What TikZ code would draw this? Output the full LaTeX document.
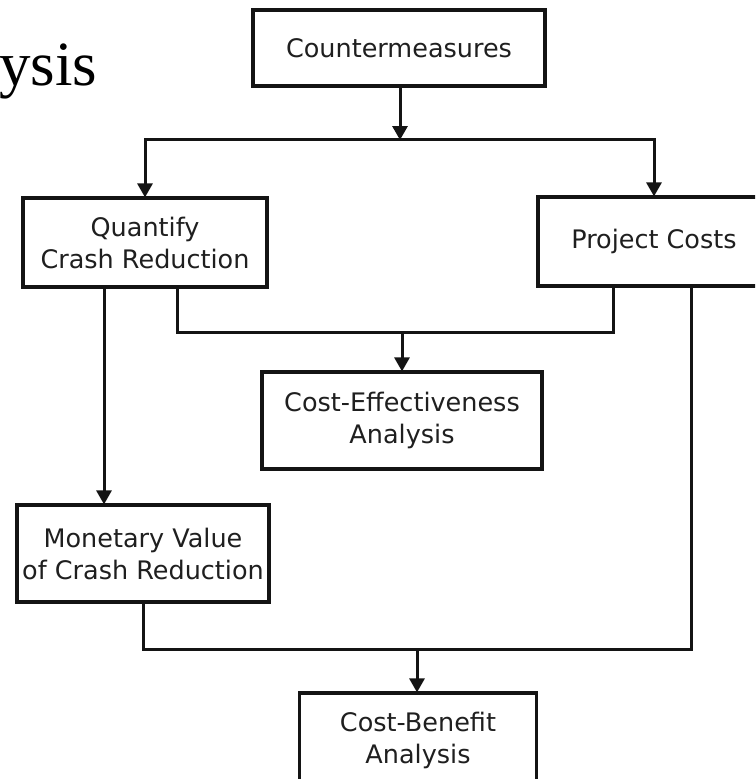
\documentclass[tikz,border=0pt]{standalone}
\usepackage{fontspec}
\setmainfont{DejaVu Sans}
\newfontfamily\titleserif{Liberation Serif}
\usetikzlibrary{arrows.meta}
\begin{document}
\begin{tikzpicture}[x=1pt,y=-1pt,
  box/.style={draw=black!92, line width=3.2pt, fill=white, align=center,
    inner sep=0pt, text=black!88, font=\fontsize{25.5}{32}\selectfont},
  link/.style={draw=black!92, line width=3pt},
  arr/.style={link, -{Triangle[width=15pt,length=14pt]}, shorten >=-1pt}]
\useasboundingbox (0,0) rectangle (755,779);
\clip (0,0) rectangle (755,779);

% heading fragment
\node[anchor=base west, inner sep=0pt, font=\titleserif\fontsize{63}{63}\selectfont] (head) at (-1,85) {ysis};

% boxes
\node[box, minimum width=292pt, minimum height=76pt] (cm)  at (399,48)    {Countermeasures};
\node[box, minimum width=244pt, minimum height=89pt] (qcr) at (145,242.5) {Quantify\\Crash Reduction};
\node[box, minimum width=232pt, minimum height=89pt] (pc)  at (654,241.5) {Project Costs};
\node[box, minimum width=280pt, minimum height=97pt] (cea) at (402,420.5) {Cost-Effectiveness\\Analysis};
\node[box, minimum width=252pt, minimum height=97pt] (mv)  at (143,553.5) {Monetary Value\\of Crash Reduction};
\node[box, minimum width=237pt, minimum height=94pt] (cba) at (418,740)   {Cost-Benefit\\Analysis};

% junction points
\coordinate (j1) at (400,139);
\coordinate (j2) at (402,332);
\coordinate (j3) at (417,649);

% countermeasures split
\draw[arr] (cm.south -| j1) -- (j1);
\draw[arr] (j1) -| (qcr.north);
\draw[arr] (j1) -| (pc.north);

% cost-effectiveness branch
\draw[link] ([xshift=32pt]qcr.south) |- (j2) -| ([xshift=-41pt]pc.south);
\draw[arr] (j2) -- (j2 |- cea.north);

% monetary value
\draw[arr] ([xshift=-41pt]qcr.south) -- ([xshift=-41pt]qcr.south |- mv.north);

% cost-benefit branch
\draw[link] (mv.south) |- (j3) -| ([xshift=37pt]pc.south);
\draw[arr] (j3) -- (j3 |- cba.north);
\end{tikzpicture}
\end{document}
